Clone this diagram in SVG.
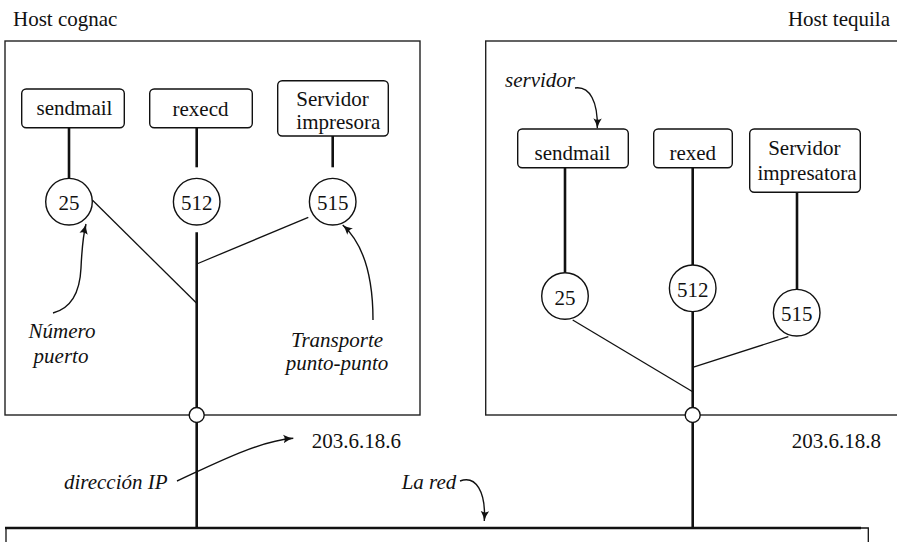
<svg xmlns="http://www.w3.org/2000/svg" width="897" height="542" viewBox="0 0 897 542" font-family="'Liberation Serif', 'Times New Roman', Times, 'DejaVu Serif', serif">
  <style>
    text { font-family: 'Liberation Serif', 'Times New Roman', Times, 'DejaVu Serif', serif; font-size: 21px; fill: #111; }
    .it { font-style: italic; }
    .mid { text-anchor: middle; }
    .end { text-anchor: end; }
    .host { fill: none; stroke: #222; stroke-width: 1.4; }
    .proc { fill: #fff; stroke: #111; stroke-width: 1.4; }
    .port { fill: #fff; stroke: #111; stroke-width: 1.4; }
    .thick { stroke: #111; stroke-width: 2.6; fill: none; }
    .thin { stroke: #111; stroke-width: 1.3; fill: none; }
    .note { stroke: #111; stroke-width: 1.4; fill: none; marker-end: url(#tip); }
    .iface { fill: #fff; stroke: #111; stroke-width: 1.4; }
  </style>
  <defs>
    <marker id="tip" viewBox="0 0 10 10" refX="10" refY="5" markerWidth="10" markerHeight="10" markerUnits="userSpaceOnUse" orient="auto">
      <path d="M0,0.8 Q5,4 10,5 Q5,6 0,9.2 Q2.8,5 0,0.8 z" fill="#111"/>
    </marker>
  </defs>

  <rect width="897" height="542" fill="#fff"/>

  <!-- host frames -->
  <g id="host-cognac">
    <rect class="host" x="5" y="41" width="415" height="374"/>
    <text x="13" y="25.5">Host cognac</text>
  </g>
  <g id="host-tequila">
    <rect class="host" x="485.7" y="41" width="430" height="374"/>
    <text class="end" x="890" y="25.5">Host tequila</text>
  </g>

  <!-- network segment -->
  <g id="network">
    <path class="thin" d="M6,528 V548 M861,528 H868.3 V548"/>
    <line class="thick" x1="5" y1="528" x2="861" y2="528"/>
  </g>

  <!-- connectors -->
  <g id="connectors">
    <!-- cognac -->
    <line class="thick" x1="69" y1="127.7" x2="69" y2="178.4"/>
    <line class="thick" x1="196.7" y1="127.7" x2="196.7" y2="167.3"/>
    <line class="thick" x1="332.7" y1="136" x2="332.7" y2="167.3"/>
    <line class="thick" x1="196.7" y1="232.3" x2="196.7" y2="528"/>
    <line class="thin" x1="92.3" y1="200" x2="196.7" y2="303.3"/>
    <line class="thin" x1="308.3" y1="217.3" x2="196.7" y2="264"/>
    <!-- tequila -->
    <line class="thick" x1="565" y1="167.7" x2="565" y2="272.7"/>
    <line class="thick" x1="692.7" y1="167.7" x2="692.7" y2="265"/>
    <line class="thick" x1="797" y1="192.3" x2="797" y2="289.4"/>
    <line class="thick" x1="692.7" y1="311.6" x2="692.7" y2="528"/>
    <line class="thin" x1="572.7" y1="320" x2="692.7" y2="391.7"/>
    <line class="thin" x1="788.3" y1="336.7" x2="692.7" y2="367.3"/>
    <!-- annotation arrows -->
    <path class="note" d="M53,313 C72,308 80,290 81,268 S83,236 86,224"/>
    <path class="note" d="M373,320 C373,282 366,246 342.7,225"/>
    <path class="note" d="M575,88 C590,86 598,102 597.3,128.3"/>
    <path class="note" d="M177,481 C212,465 258,441 293.3,438.3"/>
    <path class="note" d="M460,481 C476,475 486,492 484.3,521"/>
  </g>

  <!-- cognac processes -->
  <g id="cognac-sendmail">
    <rect class="proc" x="21.7" y="89" width="102.6" height="38.7" rx="4.5"/>
    <text class="mid" x="74.5" y="115">sendmail</text>
  </g>
  <g id="cognac-rexecd">
    <rect class="proc" x="149.7" y="89" width="102.6" height="38.7" rx="4.5"/>
    <text class="mid" x="200.5" y="115.5">rexecd</text>
  </g>
  <g id="cognac-impresora">
    <rect class="proc" x="277.7" y="80.7" width="110.6" height="55.3" rx="4.5"/>
    <text class="mid" x="332.5" y="106">Servidor</text>
    <text class="mid" x="338.3" y="129.3">impresora</text>
  </g>

  <!-- cognac ports -->
  <g id="cognac-port-25">
    <circle class="port" cx="69" cy="201.7" r="23.3"/>
    <text class="mid" x="69" y="209.7">25</text>
  </g>
  <g id="cognac-port-512">
    <circle class="port" cx="196.7" cy="201.7" r="23.3"/>
    <text class="mid" x="196.7" y="209.7">512</text>
  </g>
  <g id="cognac-port-515">
    <circle class="port" cx="332.7" cy="201.7" r="23.3"/>
    <text class="mid" x="332.7" y="209.7">515</text>
  </g>

  <!-- tequila processes -->
  <g id="tequila-sendmail">
    <rect class="proc" x="517.7" y="129" width="110.6" height="38.7" rx="4.5"/>
    <text class="mid" x="572.5" y="160">sendmail</text>
  </g>
  <g id="tequila-rexed">
    <rect class="proc" x="653.7" y="129" width="78.6" height="38.7" rx="4.5"/>
    <text class="mid" x="692.8" y="160">rexed</text>
  </g>
  <g id="tequila-impresatora">
    <rect class="proc" x="749.7" y="129" width="110.6" height="63.3" rx="4.5"/>
    <text class="mid" x="804.3" y="155">Servidor</text>
    <text class="mid" x="807" y="180">impresatora</text>
  </g>

  <!-- tequila ports -->
  <g id="tequila-port-25">
    <circle class="port" cx="565" cy="296" r="23.3"/>
    <text class="mid" x="565" y="304.5">25</text>
  </g>
  <g id="tequila-port-512">
    <circle class="port" cx="692.7" cy="288.3" r="23.3"/>
    <text class="mid" x="692.7" y="297">512</text>
  </g>
  <g id="tequila-port-515">
    <circle class="port" cx="796.7" cy="312.7" r="23.3"/>
    <text class="mid" x="796.7" y="321.3">515</text>
  </g>

  <!-- network interfaces -->
  <g id="cognac-iface">
    <circle class="iface" cx="196.7" cy="415" r="7.5"/>
    <text x="311.7" y="447.7">203.6.18.6</text>
  </g>
  <g id="tequila-iface">
    <circle class="iface" cx="692.7" cy="415" r="7.5"/>
    <text x="791.7" y="447.7">203.6.18.8</text>
  </g>

  <!-- labels -->
  <g id="labels">
    <text class="it mid" x="62" y="338">Número</text>
    <text class="it mid" x="61" y="362.7">puerto</text>
    <text class="it mid" x="337" y="346.7">Transporte</text>
    <text class="it mid" x="337" y="370">punto-punto</text>
    <text class="it" x="505" y="87.3">servidor</text>
    <text class="it" x="64" y="489.3">dirección IP</text>
    <text class="it" x="401.7" y="489">La red</text>
  </g>
</svg>
